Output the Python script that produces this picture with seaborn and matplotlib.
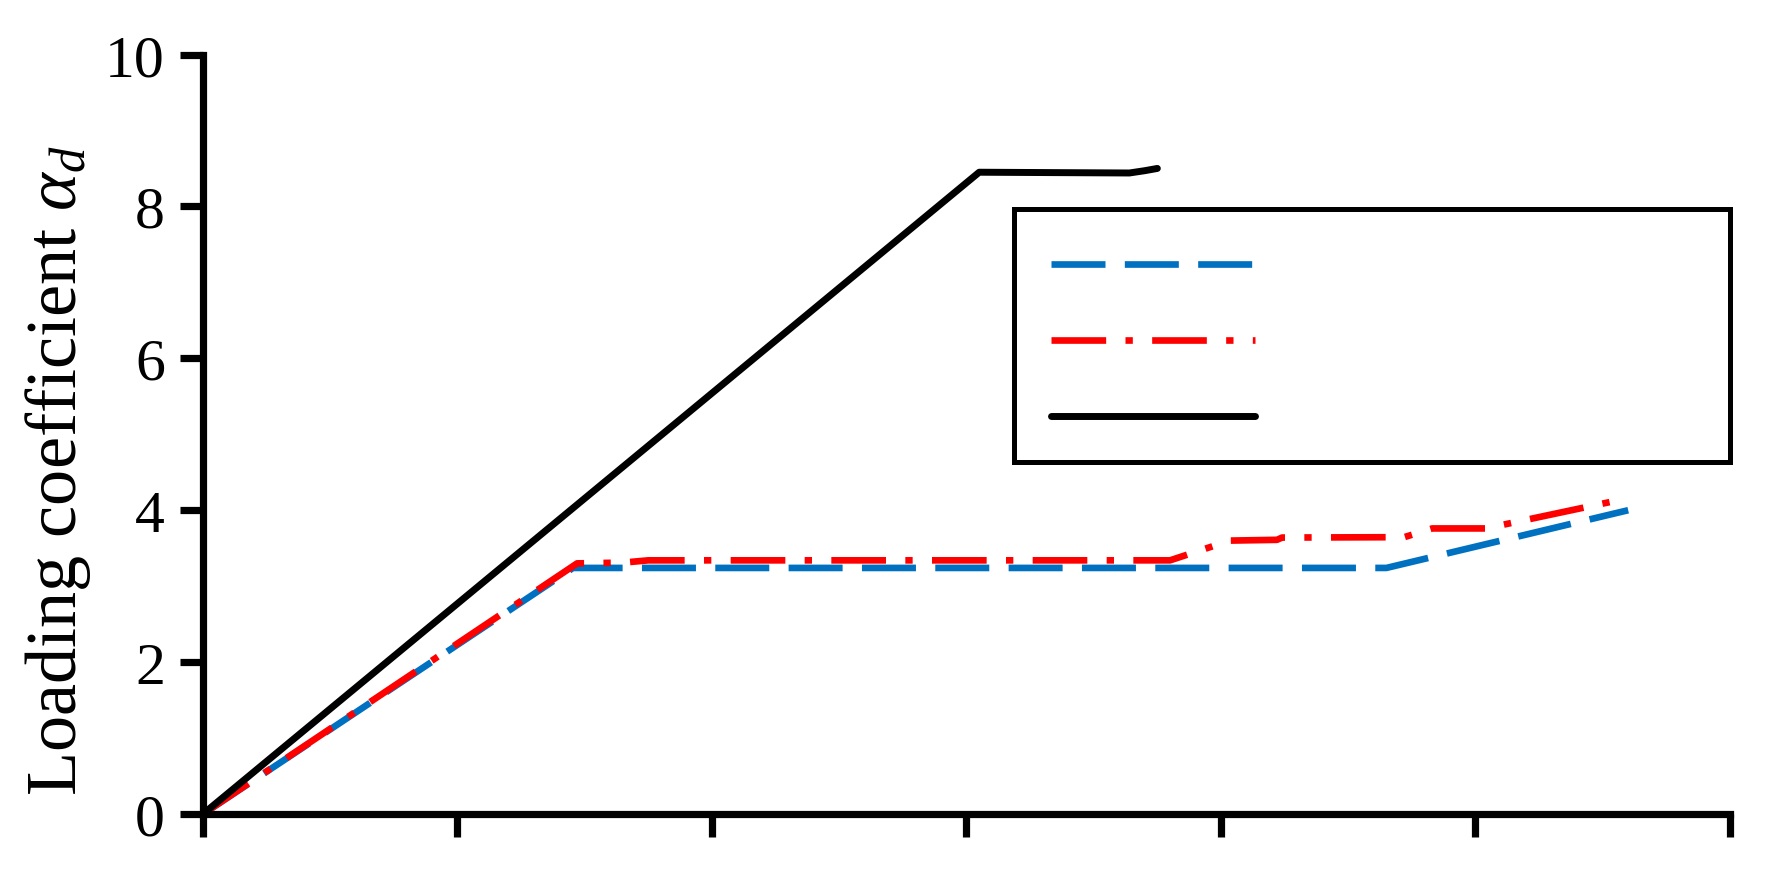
import numpy as np
import pandas as pd
import matplotlib
matplotlib.use("Agg")
import matplotlib.pyplot as plt
from matplotlib import font_manager
from matplotlib.lines import Line2D
from matplotlib.legend_handler import HandlerLine2D
import seaborn as sns

# ---- data ----
blue_x = [0.0, 1.454, 4.65, 5.60]
blue_y = [0.0, 3.24, 3.24, 4.00]

red_x = [0.0, 1.47, 1.65, 1.75, 3.80, 4.035, 4.22, 4.24, 4.72, 4.83, 5.04, 5.56]
red_y = [0.0, 3.30, 3.31, 3.34, 3.34, 3.60, 3.61, 3.64, 3.645, 3.76, 3.76, 4.13]

black_x = [0.0, 3.05, 3.64, 3.70, 3.75]
black_y = [0.0, 8.45, 8.44, 8.47, 8.50]

x_ticks = [0, 1, 2, 3, 4, 5, 6]
y_ticks = [0, 2, 4, 6, 8, 10]
y_tick_labels = ["0", "2", "4", "6", "8", "10"]
legend_labels = [" ", " ", " "]

sns.set_style("ticks")
avail = {f.name for f in font_manager.fontManager.ttflist}
serif = next((n for n in ["Liberation Serif", "Times New Roman", "DejaVu Serif"]
              if n in avail), "serif")
plt.rcParams["font.family"] = [serif, "DejaVu Serif"]
plt.rcParams["mathtext.fontset"] = "custom"
plt.rcParams["mathtext.rm"] = serif
plt.rcParams["mathtext.it"] = serif + ":italic"
plt.rcParams["text.color"] = "black"
plt.rcParams["axes.labelcolor"] = "black"
plt.rcParams["xtick.color"] = "black"
plt.rcParams["ytick.color"] = "black"

fig, ax = plt.subplots(figsize=(17.68, 8.70), dpi=100)
fig.subplots_adjust(left=0.1148, right=0.9785, bottom=0.0632, top=0.9362)

lw = 4.8
df_b = pd.DataFrame({"x": blue_x, "y": blue_y})
df_r = pd.DataFrame({"x": red_x, "y": red_y})
df_k = pd.DataFrame({"x": black_x, "y": black_y})

sns.lineplot(data=df_b, x="x", y="y", ax=ax, sort=False, estimator=None,
             color="#0070C0", linewidth=lw, linestyle=(0, (8.1, 2.9)),
             label=legend_labels[0])
sns.lineplot(data=df_r, x="x", y="y", ax=ax, sort=False, estimator=None,
             color="#FF0000", linewidth=lw, linestyle=(0, (8.2, 2.9, 1.1, 2.9)),
             label=legend_labels[1])
sns.lineplot(data=df_k, x="x", y="y", ax=ax, sort=False, estimator=None,
             color="black", linewidth=5.0, linestyle="-",
             label=legend_labels[2], solid_capstyle="round")

ax.set_xlim(0, 6)
ax.set_ylim(0, 10)
ax.set_xticks(x_ticks)
ax.set_xticklabels([])
ax.set_yticks(y_ticks)
ax.set_yticklabels(y_tick_labels)
ax.set_xlabel("")
ax.set_ylabel(r"Loading coefficient $\alpha_d$", fontsize=52)
ax.yaxis.set_label_coords(-0.072, 0.453)

sns.despine(ax=ax)
for s in ["left", "bottom"]:
    ax.spines[s].set_linewidth(5.2)
    ax.spines[s].set_color("black")
ax.tick_params(axis="both", direction="out", length=16.5, width=5.2,
               color="black", labelsize=43, pad=11)

F = 45
leg = ax.legend(loc="upper left", bbox_to_anchor=(0.531, 0.0, 0.469, 0.797),
                mode="expand", borderaxespad=0, fontsize=F, frameon=True,
                fancybox=False, framealpha=1, edgecolor="black",
                handlelength=3.70, labelspacing=0.29, borderpad=0.16,
                handletextpad=0.2, title=" ", title_fontsize=4,
                handler_map={Line2D: HandlerLine2D(xpad=0.43)})
leg.get_frame().set_linewidth(3.6)

fig.savefig("out.png", dpi=100)
